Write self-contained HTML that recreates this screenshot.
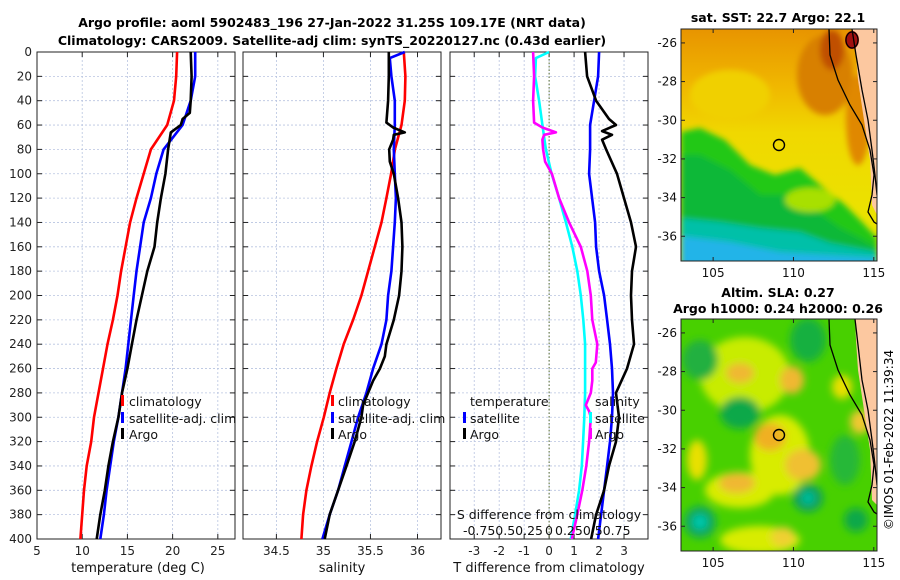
<!DOCTYPE html>
<html><head><meta charset="utf-8"><style>
html,body{margin:0;padding:0;background:#fff;}
svg{display:block;font-family:"DejaVu Sans","Liberation Sans",sans-serif;}
</style></head><body>
<svg id="fig" width="900" height="580" viewBox="0 0 900 580" xmlns="http://www.w3.org/2000/svg">
<defs>
<filter id="blur6" x="-10%" y="-10%" width="120%" height="120%"><feGaussianBlur stdDeviation="4"/></filter>
<filter id="blur3"><feGaussianBlur stdDeviation="3"/></filter>
<clipPath id="clipTop"><rect x="681" y="29" width="196" height="232"/></clipPath>
<clipPath id="clipBot"><rect x="681" y="319" width="196" height="232"/></clipPath>
<linearGradient id="sstGrad" x1="0" y1="0" x2="0" y2="1">
<stop offset="0" stop-color="#e89400"/><stop offset="0.25" stop-color="#f0b800"/><stop offset="0.45" stop-color="#f0d800"/><stop offset="1" stop-color="#e8e800"/>
</linearGradient>
</defs>
<text x="332" y="27" text-anchor="middle" font-size="12.5" font-weight="bold">Argo profile: aoml 5902483_196 27-Jan-2022 31.25S 109.17E (NRT data)</text>
<text x="332" y="45" text-anchor="middle" font-size="12.5" font-weight="bold">Climatology: CARS2009. Satellite-adj clim: synTS_20220127.nc (0.43d earlier)</text>

<!-- top SST map -->
<g>
<g clip-path="url(#clipTop)">
<rect x="681" y="29" width="196" height="232" fill="url(#sstGrad)"/>
<g filter="url(#blur3)">
<polygon points="681,132 700,128 725,140 750,165 775,175 800,168 820,185 845,205 862,222 877,238 877,270 681,270" fill="#20c818"/>
<polygon points="681,155 700,155 730,170 760,195 785,195 815,210 840,228 860,238 877,248 877,270 681,270" fill="#10b838"/>
<polygon points="681,218 720,222 760,228 800,232 830,243 877,252 877,270 681,270" fill="#00c0a8"/>
<polygon points="681,236 730,242 780,252 877,258 877,270 681,270" fill="#20b4e8"/>
<ellipse cx="825" cy="75" rx="28" ry="40" fill="#d88000"/>
<ellipse cx="832" cy="50" rx="12" ry="20" fill="#c05000"/>
<ellipse cx="858" cy="120" rx="12" ry="45" fill="#e08800"/>
<ellipse cx="810" cy="200" rx="25" ry="12" fill="#a8e000"/>
<ellipse cx="730" cy="95" rx="40" ry="25" fill="#f0d000"/>
</g>
<polygon points="852,29 877,29 877,215 872,205 870,160 864,120 858,80 856,55" fill="#fcc8a0"/>
<ellipse cx="852" cy="40" rx="7" ry="9" fill="#a01010"/>
<polyline points="829,29 830,55 838,80 850,105 862,125 870,150 874,175 872,195 868,212 874,222 877,224" fill="none" stroke="#000" stroke-width="1.3"/>
<polyline points="852,29 856,55 862,90 868,120 872,150 875,175 877,195" fill="none" stroke="#000" stroke-width="1.3"/>
<ellipse cx="852" cy="40" rx="6" ry="8" fill="none" stroke="#000" stroke-width="1.2"/>
</g>
<rect x="681" y="29" width="196" height="232" fill="none" stroke="#222" stroke-width="1"/>
<circle cx="779" cy="145" r="5.5" fill="none" stroke="#000" stroke-width="1.4"/>
<text x="778" y="22" text-anchor="middle" font-size="12.5" font-weight="bold">sat. SST: 22.7 Argo: 22.1</text>
</g>

<!-- bottom SLA map -->
<g>
<g clip-path="url(#clipBot)">
<rect x="681" y="319" width="196" height="232" fill="#48d000"/>
<g filter="url(#blur6)">
<ellipse cx="745" cy="375" rx="45" ry="38" fill="#c8ec00"/>
<ellipse cx="780" cy="455" rx="30" ry="40" fill="#d8ec00"/>
<ellipse cx="740" cy="490" rx="35" ry="18" fill="#d8ec00"/>
<ellipse cx="760" cy="540" rx="40" ry="14" fill="#d8ec00"/>
<ellipse cx="740" cy="373" rx="14" ry="10" fill="#f0b830"/>
<ellipse cx="792" cy="380" rx="12" ry="14" fill="#f0b830"/>
<ellipse cx="770" cy="437" rx="16" ry="14" fill="#f0b020"/>
<ellipse cx="803" cy="465" rx="18" ry="16" fill="#f0c030"/>
<ellipse cx="737" cy="483" rx="18" ry="10" fill="#f0b830"/>
<ellipse cx="860" cy="422" rx="10" ry="12" fill="#f0c830"/>
<ellipse cx="842" cy="387" rx="10" ry="12" fill="#e8e000"/>
<ellipse cx="783" cy="537" rx="12" ry="10" fill="#f0d030"/>
<ellipse cx="697" cy="460" rx="10" ry="20" fill="#e8e000"/>
<ellipse cx="740" cy="413" rx="20" ry="16" fill="#10a848"/>
<ellipse cx="808" cy="340" rx="18" ry="22" fill="#18b040"/>
<ellipse cx="808" cy="498" rx="15" ry="14" fill="#10a060"/>
<ellipse cx="808" cy="498" rx="6" ry="6" fill="#00c0a0"/>
<ellipse cx="700" cy="522" rx="16" ry="16" fill="#10a860"/>
<ellipse cx="700" cy="522" rx="7" ry="7" fill="#00c8b0"/>
<ellipse cx="856" cy="520" rx="12" ry="12" fill="#10a848"/>
<ellipse cx="700" cy="360" rx="18" ry="20" fill="#20b040"/>
<ellipse cx="845" cy="460" rx="15" ry="25" fill="#28b838"/>
</g>
<polygon points="855,319 877,319 877,505 872,500 870,450 864,410 858,370 856,340" fill="#fcc8a0"/>
<polyline points="829,319 830,345 838,370 850,395 862,415 870,440 874,465 872,485 868,502 874,512 877,514" fill="none" stroke="#000" stroke-width="1.3"/>
<polyline points="855,319 858,345 862,380 868,410 872,440 875,465 877,485" fill="none" stroke="#000" stroke-width="1.3"/>
</g>
<rect x="681" y="319" width="196" height="232" fill="none" stroke="#222" stroke-width="1"/>
<circle cx="779" cy="435" r="5.5" fill="none" stroke="#000" stroke-width="1.4"/>
<text x="778" y="297" text-anchor="middle" font-size="12.5" font-weight="bold">Altim. SLA: 0.27</text>
<text x="778" y="313" text-anchor="middle" font-size="12.5" font-weight="bold">Argo h1000: 0.24 h2000: 0.26</text>
</g>
<text transform="translate(893,440) rotate(-90)" text-anchor="middle" font-size="12">©IMOS 01-Feb-2022 11:39:34</text>
<g id="plots"></g>
</svg>
<script>
// ---- data ----
const depthLabels = [0,20,40,60,80,100,120,140,160,180,200,220,240,260,280,300,320,340,360,380,400];
const depthsStd = [0,20,40,60,80,100,120,140,160,180,200,220,240,260,280,300,320,340,360,380,400];
const climT = [20.5,20.4,20.15,19.4,17.6,16.8,16.0,15.3,14.8,14.3,13.9,13.4,12.8,12.3,11.8,11.3,11.0,10.5,10.2,10.0,9.8];
const satT = [22.5,22.5,22.0,21.1,19.0,18.2,17.6,16.8,16.4,16.0,15.7,15.4,15.1,14.8,14.4,14.0,13.5,13.1,12.7,12.4,12.0];
const argoTDepths = [0,20,40,50,55,60,66,80,100,120,140,160,180,200,220,240,260,280,300,320,340,360,380,400];
const argoT = [22.0,22.1,22.0,21.9,21.1,20.9,19.8,19.5,19.2,18.7,18.3,18.0,17.2,16.6,16.0,15.5,15.0,14.4,14.0,13.4,12.9,12.5,12.0,11.6];
const climS = [35.855,35.872,35.865,35.83,35.76,35.72,35.67,35.617,35.546,35.475,35.404,35.316,35.216,35.138,35.067,35.004,34.933,34.872,34.819,34.784,34.766];
const satSDepths = [0,5,20,40,60,80,100,120,140,160,180,200,220,240,260,280,300,320,340,360,380,400];
const satS = [35.865,35.706,35.723,35.759,35.759,35.748,35.759,35.77,35.759,35.741,35.723,35.688,35.67,35.617,35.528,35.457,35.369,35.298,35.227,35.156,35.067,34.989];
const argoSDepths = [0,20,40,58,62,66,68,72,80,90,100,120,140,160,180,200,220,240,250,260,270,280,290,300,320,340,360,380,400];
const argoS = [35.695,35.695,35.688,35.67,35.741,35.865,35.748,35.741,35.699,35.706,35.748,35.794,35.83,35.84,35.83,35.805,35.748,35.67,35.652,35.6,35.528,35.475,35.422,35.404,35.333,35.245,35.156,35.067,35.014];
const satTdiffDepths = [0,5,20,40,60,80,100,120,140,160,180,200,220,240,260,280,300,320,340,360,380,400];
const satTdiff = [0,-0.53,-0.56,-0.4,-0.27,-0.13,0.1,0.4,0.67,0.93,1.13,1.27,1.37,1.44,1.44,1.44,1.41,1.36,1.31,1.2,1.04,0.87];
const argoTdiffDepths = [0,20,40,58,62,66,68,72,80,90,100,120,140,160,180,200,220,240,255,260,270,280,290,295,300,320,340,360,380,400];
const argoTdiff = [-0.64,-0.6,-0.64,-0.6,-0.27,0.27,-0.2,-0.27,-0.24,-0.16,0.11,0.4,0.8,1.27,1.53,1.67,1.73,1.93,1.87,1.73,1.73,1.67,1.47,1.6,1.67,1.6,1.49,1.33,1.13,0.91];
const satSdiff = [0.5,0.49,0.45,0.41,0.41,0.4,0.43,0.46,0.47,0.5,0.55,0.58,0.61,0.63,0.64,0.63,0.61,0.58,0.55,0.52,0.49];
const argoSdiffDepths = [0,20,40,55,60,65,68,72,80,100,120,140,160,170,180,200,220,240,260,280,300,320,340,360,380,400];
const argoSdiff = [0.36,0.38,0.47,0.6,0.67,0.53,0.63,0.53,0.57,0.68,0.75,0.82,0.87,0.85,0.83,0.82,0.83,0.85,0.78,0.67,0.7,0.67,0.6,0.55,0.47,0.42];
const tTicks = [5,10,15,20,25];
const sTicks = [34.5,35,35.5,36];
const dTicks = [-3,-2,-1,0,1,2,3];
const sdTickLabels = ["-0.750.50.25","0","0.250.50.75"];
const latTicks = [-26,-28,-30,-32,-34,-36];
const lonTicks = [105,110,115];

// ---- layout ----
const NS = "http://www.w3.org/2000/svg";
const root = document.getElementById('plots');
const Y0 = 52, Y1 = 539;
const yScale = d => Y0 + (d/400)*(Y1-Y0);
function lin(d0,d1,r0,r1){ return v => r0 + (v-d0)/(d1-d0)*(r1-r0); }
const xT = lin(5,26.9,37,235);
const xS = lin(34.145,36.25,243,441);
const xD = lin(-3.97,3.96,450,648);
const xSD = v => xD(v*4);
function el(tag, attrs, parent){ const e=document.createElementNS(NS,tag); for(const k in attrs) e.setAttribute(k,attrs[k]); (parent||root).appendChild(e); return e; }

function panel(name, x0, x1, ticks, xs, labelTicks, showY){
  const g = el('g',{});
  
  
  ticks.forEach(t=>{ const x=xs(t); const l=el('line',{x1:x,x2:x,y1:Y0,y2:Y1,stroke:'#b8c4e0','stroke-width':0.8,'stroke-dasharray':'2,2'},g);
      });
  depthLabels.forEach(d=>{ const y=yScale(d); const l=el('line',{x1:x0,x2:x1,y1:y,y2:y,stroke:'#b8c4e0','stroke-width':0.8,'stroke-dasharray':'2,2'},g);
     
    el('line',{x1:x0,x2:x0+5,y1:y,y2:y,stroke:'#222'},g); el('line',{x1:x1-5,x2:x1,y1:y,y2:y,stroke:'#222'},g);
    if(showY){ const t=el('text',{x:x0-5,y:y+4,'text-anchor':'end','font-size':12,fill:'#222'},g); t.textContent=d;
        }
  });
  ticks.forEach(t=>{ const x=xs(t); el('line',{x1:x,x2:x,y1:Y1-5,y2:Y1,stroke:'#222'},g); el('line',{x1:x,x2:x,y1:Y0,y2:Y0+5,stroke:'#222'},g);
    if(labelTicks){ const tx=el('text',{x:x,y:Y1+16,'text-anchor':'middle','font-size':12,fill:'#222'},g); tx.textContent=t;
        } });
  const r=el('rect',{x:x0,y:Y0,width:x1-x0,height:Y1-Y0,fill:'none',stroke:'#222','stroke-width':1},g);
   
  return g;
}
function series(g, name, depths, vals, xs, color){
  const pts = vals.map((v,i)=> xs(v).toFixed(1)+','+yScale(depths[i]).toFixed(1)).join(' ');
  const p = el('polyline',{points:pts,fill:'none',stroke:color,'stroke-width':2.6,'stroke-linejoin':'round'},g);
  
  
}
function txt(g,name,x,y,s,size,anchor){ const t=el('text',{x:x,y:y,'font-size':size||12.5,'text-anchor':anchor||'start',fill:'#111'},g); t.textContent=s;
    return t; }
function mark(g,name,x,y,color){ const r=el('rect',{x:x,y:y-6,width:3,height:11,fill:color},g);
    }

// Panel 1 temperature
const g1 = panel('temperature-panel',37,235,tTicks,xT,true,true);
series(g1,'climatology-temperature-line',depthsStd,climT,xT,'#ff0000');
series(g1,'satellite-temperature-line',depthsStd,satT,xT,'#0000ff');
series(g1,'argo-temperature-line',argoTDepths,argoT,xT,'#000000');
mark(g1,'legend-climatology-marker',121,401,'#ff0000'); txt(g1,'legend-climatology',129,406,'climatology');
mark(g1,'legend-satellite-marker',121,418,'#0000ff'); txt(g1,'legend-satellite',129,423,'satellite-adj. clim');
mark(g1,'legend-argo-marker',121,434,'#000'); txt(g1,'legend-argo',129,439,'Argo');
txt(g1,'x-axis-title-temperature',138,572,'temperature (deg C)',13,'middle');

// Panel 2 salinity
const g2 = panel('salinity-panel',243,441,sTicks,xS,true,false);
series(g2,'climatology-salinity-line',depthsStd,climS,xS,'#ff0000');
series(g2,'satellite-salinity-line',satSDepths,satS,xS,'#0000ff');
series(g2,'argo-salinity-line',argoSDepths,argoS,xS,'#000000');
mark(g2,'legend-climatology-marker',331,401,'#ff0000'); txt(g2,'legend-climatology',338,406,'climatology');
mark(g2,'legend-satellite-marker',331,418,'#0000ff'); txt(g2,'legend-satellite',338,423,'satellite-adj. clim');
mark(g2,'legend-argo-marker',331,434,'#000'); txt(g2,'legend-argo',338,439,'Argo');
txt(g2,'x-axis-title-salinity',342,572,'salinity',13,'middle');

// Panel 3 differences
const g3 = panel('difference-panel',450,648,dTicks,xD,true,false);
const zl = el('line',{x1:xD(0),x2:xD(0),y1:Y0,y2:Y1,stroke:'#556b2f','stroke-width':1,'stroke-dasharray':'1.5,2'},g3);
 
series(g3,'satellite-salinity-diff-line',depthsStd,satSdiff,xSD,'#0000ff');
series(g3,'argo-salinity-diff-line',argoSdiffDepths,argoSdiff,xSD,'#000000');
series(g3,'satellite-temperature-diff-line',satTdiffDepths,satTdiff,xD,'#00ffff');
series(g3,'argo-temperature-diff-line',argoTdiffDepths,argoTdiff,xD,'#ff00ff');
txt(g3,'legend-temperature-heading',470,406,'temperature');
mark(g3,'legend-sat-temp-marker',463,418,'#0000ff'); txt(g3,'legend-sat-temp',470,423,'satellite');
mark(g3,'legend-argo-temp-marker',463,434,'#000'); txt(g3,'legend-argo-temp',470,439,'Argo');
txt(g3,'legend-salinity-heading',595,406,'salinity');
mark(g3,'legend-sat-sal-marker',589,418,'#00ffff'); txt(g3,'legend-sat-sal',595,423,'satellite');
mark(g3,'legend-argo-sal-marker',589,434,'#ff00ff'); txt(g3,'legend-argo-sal',595,439,'Argo');
txt(g3,'s-diff-axis-title',549,519,'S difference from climatology',12.5,'middle');
txt(g3,'s-diff-tick-neg',543,535,sdTickLabels[0],12.5,'end');
txt(g3,'s-diff-tick-zero',549,535,sdTickLabels[1],12.5,'middle');
txt(g3,'s-diff-tick-pos',555,535,sdTickLabels[2],12.5,'start');
txt(g3,'x-axis-title-tdiff',549,572,'T difference from climatology',13,'middle');

// map axes ticks
const lonX = lin(103.0,115.2,681,877);
const latYTop = lin(-25.28,-37.28,29,261);
function mapAxes(name, yTop){
  const g = el('g',{});
  
  
  const ly = v => latYTop(v) - 29 + yTop;
  latTicks.forEach(v=>{ const y=ly(v); el('line',{x1:681,x2:685,y1:y,y2:y,stroke:'#222'},g); el('line',{x1:873,x2:877,y1:y,y2:y,stroke:'#222'},g);
    txt(g,'lat-tick-label',677,y+4,String(v),12,'end'); });
  lonTicks.forEach(v=>{ const x=lonX(v); el('line',{x1:x,x2:x,y1:yTop+228,y2:yTop+232,stroke:'#222'},g); el('line',{x1:x,x2:x,y1:yTop,y2:yTop+4,stroke:'#222'},g);
    txt(g,'lon-tick-label',x,yTop+248,String(v),12,'middle'); });
}
mapAxes('sst-map-axes',29);
mapAxes('sla-map-axes',319);
</script>
</body></html>
